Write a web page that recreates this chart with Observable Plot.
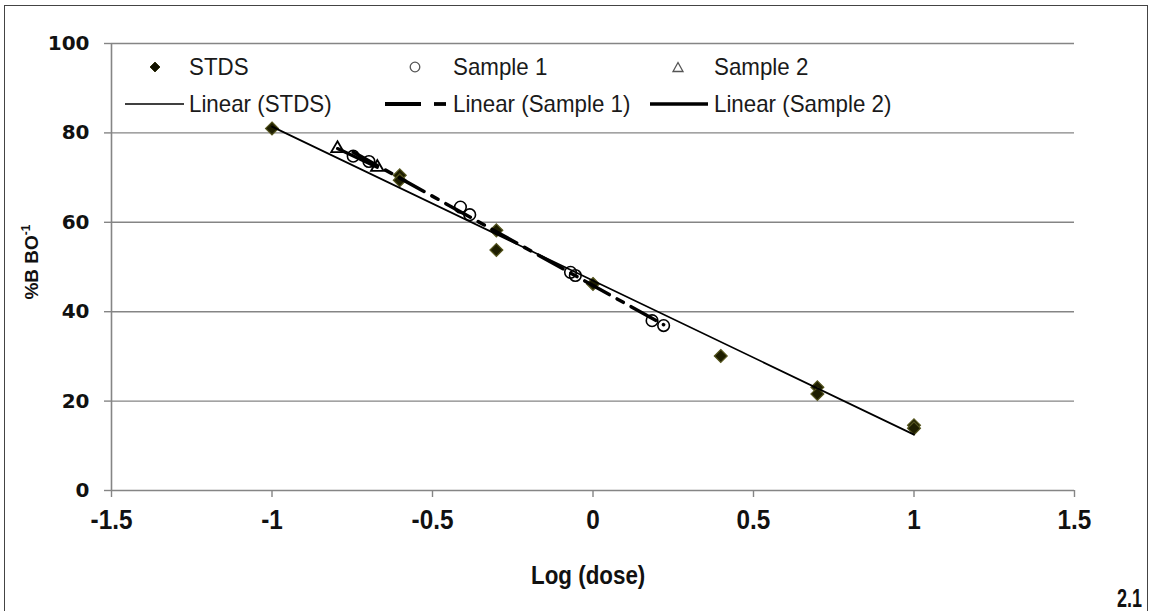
<!DOCTYPE html>
<html>
<head>
<meta charset="utf-8">
<script src="https://cdn.jsdelivr.net/npm/d3@7"></script>
<script src="https://cdn.jsdelivr.net/npm/@observablehq/plot@0.6"></script>
<style>
  html, body { margin: 0; padding: 0; background: #fff; overflow: hidden; }
  #wrap { position: relative; width: 1151px; height: 611px; font-family: "Liberation Sans", Arial, sans-serif; }
  #frame { position: absolute; left: 4px; top: 5px; width: 1144px; height: 700px; border: 1px solid #444; box-sizing: border-box; pointer-events: none; }
  .lg { position: absolute; font-size: 24px; color: #1a1a1a; line-height: 28px; white-space: nowrap; transform: scaleX(0.93); transform-origin: 0 50%; }
  .sw { position: absolute; }
  #ylab { position: absolute; left: 31px; top: 262px; transform: translate(-50%, -50%) rotate(-90deg); font: bold 19px "Liberation Sans", Arial, sans-serif; white-space: nowrap; color: #111; }
  #ylab sup { font-size: 12px; }
  #xlab { position: absolute; left: 531px; top: 560px; transform: scaleX(0.86); transform-origin: 0 0; font: bold 26px "Liberation Sans", Arial, sans-serif; color: #111; white-space: nowrap; }
  #fig { position: absolute; left: 1117px; top: 584px; transform: scaleX(0.72); transform-origin: 0 0; font: bold 25px "Liberation Sans", Arial, sans-serif; color: #111; }
</style>
</head>
<body>
<div id="wrap"></div>
<script>
// ---- data ----
const stdsX = [-1, -0.602, -0.602, -0.301, -0.301, 0, 0.398, 0.699, 0.699, 1, 1];
const stdsY = [81.0, 70.5, 69.4, 58.2, 53.8, 46.2, 30.1, 23.1, 21.6, 14.6, 13.9];
const s1X = [-0.747, -0.698, -0.413, -0.384, -0.07, -0.055, 0.184, 0.22];
const s1Y = [74.8, 73.6, 63.4, 61.7, 48.8, 48.1, 38.0, 36.9];
const s2X = [-0.796, -0.672];
const s2Y = [76.5, 72.3];
const xTicks = [-1.5, -1, -0.5, 0, 0.5, 1, 1.5];
const yTicks = [0, 20, 40, 60, 80, 100];
const seriesNames = ["STDS", "Sample 1", "Sample 2"];
const lineNames = ["Linear (STDS)", "Linear (Sample 1)", "Linear (Sample 2)"];
const xLabel = "Log (dose)";
const figLabel = "2.1";

const stds = stdsX.map((x, i) => ({x, y: stdsY[i]}));
const s1 = s1X.map((x, i) => ({x, y: s1Y[i]}));
const s2 = s2X.map((x, i) => ({x, y: s2Y[i]}));

const gridColor = "#858585";

const chart = Plot.plot({
  width: 1151,
  height: 611,
  marginLeft: 111,
  marginRight: 77,
  marginTop: 43,
  marginBottom: 121,
  style: { background: "transparent", fontFamily: "Liberation Sans, Arial, sans-serif" },
  x: { domain: [-1.5, 1.5] },
  y: { domain: [0, 100] },
  marks: [
    Plot.ruleY(yTicks.filter(d => d > 0), { stroke: gridColor, strokeWidth: 1.4 }),
    Plot.ruleY([0], { stroke: gridColor, strokeWidth: 1.6 }),
    Plot.ruleX([-1.5], { stroke: gridColor, strokeWidth: 1.6 }),
    Plot.axisY({ ticks: yTicks, tickSize: 7, text: null, stroke: gridColor, strokeWidth: 1.4, label: null }),
    Plot.axisY({ ticks: yTicks, tickSize: 0, tickPadding: 22, fontSize: 20, fontWeight: "bold", fill: "#111", label: null, fontFamily: "DejaVu Sans, Arial, sans-serif" }),
    Plot.axisX({ ticks: xTicks, tickSize: 7, text: null, stroke: gridColor, strokeWidth: 1.4, label: null }),
    Plot.axisX({ ticks: xTicks, tickSize: 0, tickPadding: 19, fontSize: 27, fontWeight: "bold", fill: "#111", label: null, tickFormat: d => String(d).replace("−", "-"), fontFamily: "Liberation Sans, Arial, sans-serif" }),
    Plot.dot(stds, { x: "x", y: "y", symbol: "diamond2", r: 5.8, fill: "#1e1e00", stroke: "#55551e", strokeWidth: 1.2 }),
    Plot.dot(s1, { x: "x", y: "y", symbol: "circle", r: 5.8, fill: "none", stroke: "#000", strokeWidth: 1.6 }),
    Plot.dot(s2, { x: "x", y: "y", symbol: "triangle2", r: 6, fill: "none", stroke: "#000", strokeWidth: 1.8 }),
    Plot.linearRegressionY(stds, { x: "x", y: "y", ci: 0, stroke: "#000", strokeWidth: 1.7 }),
    Plot.linearRegressionY(s1, { x: "x", y: "y", ci: 0, stroke: "#000", strokeWidth: 3.5, strokeDasharray: "28,9,7,9" }),
    Plot.linearRegressionY(s2, { x: "x", y: "y", ci: 0, stroke: "#000", strokeWidth: 3.2 })
  ]
});

const wrap = document.getElementById("wrap");
chart.style.position = "absolute";
chart.style.left = "0px";
chart.style.top = "0px";
wrap.appendChild(chart);

// condense x tick labels horizontally (narrow bold face as in the reference)
chart.querySelectorAll('g[aria-label="x-axis tick label"] text').forEach(t => {
  const len = t.getComputedTextLength();
  if (len > 0) {
    t.setAttribute("textLength", (len * 0.9).toFixed(2));
    t.setAttribute("lengthAdjust", "spacingAndGlyphs");
  }
});

// legend overlay (inside plot area, as in the reference)
function addSwatch(left, top, w, h, inner) {
  const ns = "http://www.w3.org/2000/svg";
  const s = document.createElementNS(ns, "svg");
  s.setAttribute("width", w); s.setAttribute("height", h);
  s.setAttribute("class", "sw");
  s.style.left = left + "px"; s.style.top = top + "px";
  s.innerHTML = inner;
  wrap.appendChild(s);
}
function addText(left, top, text) {
  const d = document.createElement("div");
  d.className = "lg";
  d.style.left = left + "px"; d.style.top = top + "px";
  d.textContent = text;
  wrap.appendChild(d);
}
// row 1 (centre y ~ 67)
addSwatch(148, 60, 14, 14, '<path d="M7,2 L12,7 L7,12 L2,7 Z" fill="#111100" stroke="#333310" stroke-width="1"/>');
addText(189, 53, seriesNames[0]);
addSwatch(408, 60, 14, 14, '<circle cx="7" cy="7" r="4.8" fill="none" stroke="#555" stroke-width="1.3"/>');
addText(453, 53, seriesNames[1]);
addSwatch(671, 60, 14, 14, '<path d="M7,2.5 L12,11.5 L2,11.5 Z" fill="none" stroke="#555" stroke-width="1.3"/>');
addText(714, 53, seriesNames[2]);
// row 2 (centre y ~ 104)
addSwatch(125, 98, 60, 12, '<line x1="0" y1="6" x2="59" y2="6" stroke="#000" stroke-width="1.6"/>');
addText(189, 90, lineNames[0]);
addSwatch(385, 98, 64, 12, '<line x1="0" y1="6" x2="36" y2="6" stroke="#000" stroke-width="3.8"/><line x1="49" y1="6" x2="61" y2="6" stroke="#000" stroke-width="3.8"/>');
addText(453, 90, lineNames[1]);
addSwatch(650, 98, 60, 12, '<line x1="0" y1="6" x2="58" y2="6" stroke="#000" stroke-width="3.4"/>');
addText(714, 90, lineNames[2]);

// axis titles & figure number
const yl = document.createElement("div");
yl.id = "ylab";
yl.innerHTML = "%B BO<sup>-1</sup>";
wrap.appendChild(yl);
const xl = document.createElement("div");
xl.id = "xlab"; xl.textContent = xLabel;
wrap.appendChild(xl);
const fl = document.createElement("div");
fl.id = "fig"; fl.textContent = figLabel;
wrap.appendChild(fl);

const fr = document.createElement("div");
fr.id = "frame";
wrap.appendChild(fr);
</script>
</body>
</html>
